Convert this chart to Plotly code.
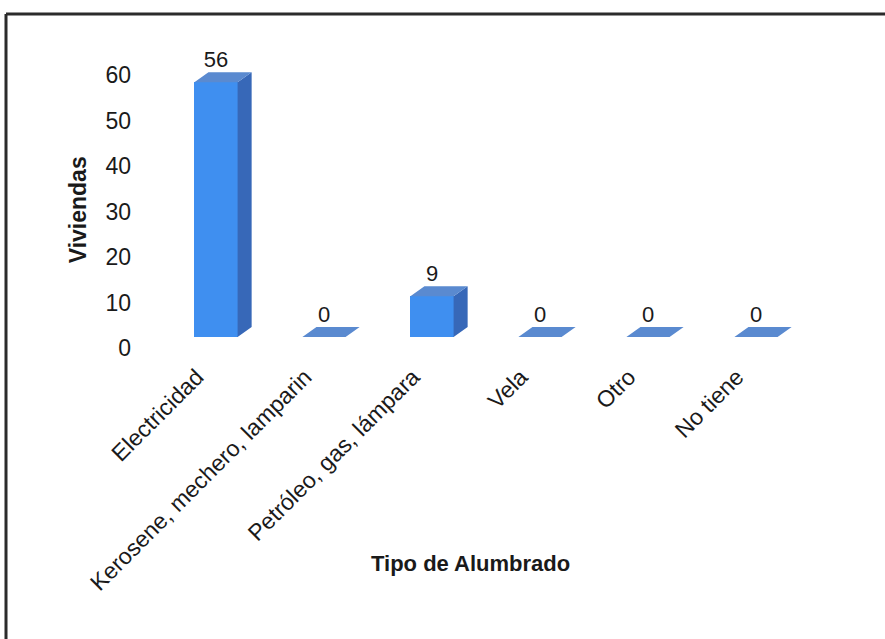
import plotly.graph_objects as go

# Lighting type per dwelling
categorias = ["Electricidad", "Kerosene, mechero, lamparin", "Petróleo, gas, lámpara",
              "Vela", "Otro", "No tiene"]
viviendas = [56, 0, 9, 0, 0, 0]
y_ticks = [0, 10, 20, 30, 40, 50, 60]

# pseudo-3D column geometry (in axis units)
BAR_W = 0.40      # front face width
DEPTH_X = 0.13    # oblique depth along x
DEPTH_Y = 2.2     # oblique depth along y

FRONT = "#3f8ff0"
SIDE = "#3768b8"
TOP = "#5a8ad0"
FONT = "Liberation Sans, Arial, sans-serif"

xs = list(range(len(categorias)))

fig = go.Figure()

# empty trace so the labelled value axis is rendered
fig.add_trace(go.Scatter(x=[None], y=[None], yaxis="y", hoverinfo="skip",
                         showlegend=False, mode="markers"))

# front faces
fig.add_trace(go.Bar(
    x=xs, y=viviendas, width=BAR_W, marker=dict(color=FRONT, line=dict(width=0)),
    yaxis="y2", hoverinfo="skip", showlegend=False,
))

# side faces and top faces built from the values
side_x, side_y, top_x, top_y = [], [], [], []
for x, v in zip(xs, viviendas):
    r = x + BAR_W / 2
    l = x - BAR_W / 2
    if v > 0:
        side_x += [r, r + DEPTH_X, r + DEPTH_X, r, r, None]
        side_y += [0, DEPTH_Y, v + DEPTH_Y, v, 0, None]
    top_x += [l, r, r + DEPTH_X, l + DEPTH_X, l, None]
    top_y += [v, v, v + DEPTH_Y, v + DEPTH_Y, v, None]

fig.add_trace(go.Scatter(
    x=side_x, y=side_y, fill="toself", fillcolor=SIDE, mode="lines",
    line=dict(width=0, color=SIDE), yaxis="y2", hoverinfo="skip", showlegend=False,
))
fig.add_trace(go.Scatter(
    x=top_x, y=top_y, fill="toself", fillcolor=TOP, mode="lines",
    line=dict(width=0, color=TOP), yaxis="y2", hoverinfo="skip", showlegend=False,
))

# value labels above each column
fig.add_trace(go.Scatter(
    x=xs, y=[v + DEPTH_Y for v in viviendas], mode="text",
    text=[str(v) for v in viviendas], textposition="top center",
    textfont=dict(family=FONT, size=22, color="#1a1a1a"),
    yaxis="y2", hoverinfo="skip", showlegend=False,
))

fig.update_layout(
    width=885, height=639,
    margin=dict(l=162, r=75, t=50, b=291),
    paper_bgcolor="white", plot_bgcolor="white",
    bargap=0,
    xaxis=dict(
        range=[-0.5, 5.5], tickmode="array", tickvals=xs, ticktext=categorias,
        tickangle=-45, showgrid=False, zeroline=False, showline=False, ticks="",
        ticklabelstandoff=10, ticklabelshift=-19,
        tickfont=dict(family=FONT, size=23, color="#1a1a1a"),
    ),
    yaxis=dict(
        range=[0, 65.5], tickmode="array", tickvals=y_ticks,
        showgrid=False, zeroline=False, showline=False, ticks="", ticklabelstandoff=30,
        tickfont=dict(family=FONT, size=23, color="#1a1a1a"),
    ),
    yaxis2=dict(
        range=[-2.4, 63.1], overlaying="y", visible=False,
    ),
    annotations=[
        dict(text="<b>Viviendas</b>", xref="paper", yref="paper",
             x=(78 - 162) / 648, y=(347.5 - 210) / 297.5, textangle=-90,
             showarrow=False, xanchor="center", yanchor="middle",
             font=dict(family=FONT, size=23, color="#1a1a1a")),
        dict(text="<b>Tipo de Alumbrado</b>", xref="paper", yref="paper",
             x=(470 - 162) / 648, y=(347.5 - 563) / 297.5,
             showarrow=False, xanchor="center", yanchor="middle",
             font=dict(family=FONT, size=22, color="#1a1a1a")),
    ],
    shapes=[
        # outer frame (left and top edges)
        dict(type="line", xref="paper", yref="paper",
             x0=(6 - 162) / 648, x1=(6 - 162) / 648,
             y0=(347.5 - 14) / 297.5, y1=(347.5 - 645) / 297.5,
             line=dict(color="#2b2b2b", width=3)),
        dict(type="line", xref="paper", yref="paper",
             x0=(6 - 162) / 648, x1=(890 - 162) / 648,
             y0=(347.5 - 14) / 297.5, y1=(347.5 - 14) / 297.5,
             line=dict(color="#2b2b2b", width=3)),
    ],
)

fig.write_html("out.html")
